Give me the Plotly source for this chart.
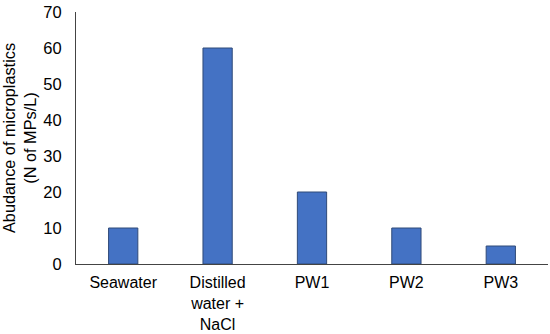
import plotly.graph_objects as go

categories = ["Seawater", "Distilled<br>water +<br>NaCl", "PW1", "PW2", "PW3"]
values = [10, 60, 20, 10, 5]
y_ticks = [0, 10, 20, 30, 40, 50, 60, 70]

fig = go.Figure(go.Bar(
    x=categories, y=values,
    marker=dict(color="#4472C4", line=dict(color="#2F4A78", width=1)),
))
fig.update_layout(
    width=550, height=334,
    margin=dict(l=76, r=2, t=12, b=70),
    paper_bgcolor="white", plot_bgcolor="white",
    bargap=0.69,
    showlegend=False,
    font=dict(family="Liberation Sans, Arial, sans-serif", size=16, color="#000"),
    xaxis=dict(showline=True, linecolor="#444", linewidth=1, ticks="", showgrid=False,
               tickfont=dict(size=16), automargin=False, ticklabelstandoff=4),
    yaxis=dict(range=[0, 70], tickvals=y_ticks, showline=True, linecolor="#444", linewidth=1,
               ticks="", showgrid=False, zeroline=False, tickfont=dict(size=16.5),
               automargin=False, ticklabelstandoff=10, ticklabeloverflow="allow",
               title=dict(text="Abudance of microplastics<br>(N of MPs/L)", font=dict(size=16.3), standoff=10)),
)
fig.write_html("out.html", config={"displayModeBar": False},
               post_script="document.body.style.margin='0';")
